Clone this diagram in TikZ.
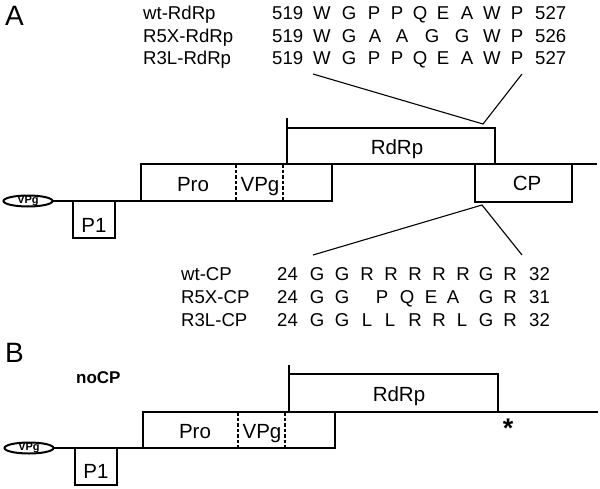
\documentclass[tikz,border=0pt]{standalone}
\usepackage{fontspec}
\setmainfont{Liberation Sans}
\usetikzlibrary{shapes.geometric}
\newcommand\seqfont{\fontsize{18.6}{22}\selectfont}
\newcommand\boxfont{\fontsize{20.5}{24}\selectfont}
\newcommand\panelfont{\fontsize{28}{32}\selectfont}
\newcommand\vpgfont{\fontsize{11}{13}\selectfont\bfseries}
\newcommand\nocpfont{\fontsize{17}{20}\selectfont\bfseries}
\newcommand\starfont{\fontsize{27}{30}\selectfont\bfseries}
\begin{document}
\begin{tikzpicture}[x=1pt,y=-1pt,
  box/.style={draw, rectangle, line width=2.2pt, inner sep=0pt, outer sep=0pt},
  gline/.style={line width=2.2pt},
  thinline/.style={line width=1.1pt},
  dashline/.style={line width=1.2pt, dash pattern=on 3.5pt off 2pt},
  seq/.style={inner sep=0pt, anchor=base, font=\seqfont},
  seqw/.style={seq, anchor=base west},
  lbl/.style={inner sep=0pt, anchor=base, font=\boxfont},
  vpgshape/.style={ellipse, draw, line width=2pt, inner sep=0pt, outer sep=0pt, minimum width=49pt, minimum height=11pt},
  vpgtext/.style={inner sep=0pt, font=\vpgfont},
  panel/.style={inner sep=0pt, anchor=base west, font=\panelfont},
]
\useasboundingbox (0,0) rectangle (600,488);

% ---------------- Panel A ----------------
\node[panel] (labA) at (5,25) {A};

% RdRp sequences
\node[seqw] (nr1) at (143,19.5) {wt-RdRp};
\node[seqw] (nr2) at (143,42) {R5X-RdRp};
\node[seqw] (nr3) at (143,64.5) {R3L-RdRp};
\node[seqw] (sr1) at (272,19.5) {519};
\node[seqw] (sr2) at (272,42) {519};
\node[seqw] (sr3) at (272,64.5) {519};
\node[seqw] (er1) at (535,19.5) {527};
\node[seqw] (er2) at (535,42) {526};
\node[seqw] (er3) at (535,64.5) {527};
\foreach \x/\t [count=\i] in {322/W,349/G,374/P,397/P,420/Q,443/E,467/A,492/W,517/P}
  \node[seq] (ra\i) at (\x,19.5) {\t};
\foreach \x/\t [count=\i] in {322/W,349/G,375/A,402/A,432/G,462/G,492/W,517/P}
  \node[seq] (rb\i) at (\x,42) {\t};
\foreach \x/\t [count=\i] in {322/W,349/G,374/P,397/P,420/Q,443/E,467/A,492/W,517/P}
  \node[seq] (rc\i) at (\x,64.5) {\t};

% genome A
\node[vpgshape] (vpgA) at (28,201) {};
\node[vpgtext] (vpgAt) at (28,201) {VPg};
\node[box, minimum width=42pt, minimum height=37pt] (p1A) at (94,219.5) {};
\node[box, minimum width=191pt, minimum height=37pt] (proA) at (236.5,182.5) {};
\node[box, minimum width=208pt, minimum height=36pt] (rdrpA) at (391,146) {};
\node[box, minimum width=97pt, minimum height=38pt] (cpA) at (523.5,183) {};
\coordinate (endA) at (597,164);
\draw[gline] (vpgA.east) -- (p1A.north west);
\draw[gline] (p1A.north east) -- (proA.south west);
\draw[gline] (rdrpA.south east) -- (endA);
\draw[gline] (rdrpA.north west) -- ++(0,-10);
\draw[dashline] (236,164) -- (236,201);
\draw[dashline] (283,164) -- (283,201);
\node[lbl] (p1At) at (94,232.5) {P1};
\node[lbl] (proAt) at (193,191.3) {Pro};
\node[lbl] (vpAt) at (260,191.3) {VPg};
\node[lbl] (rdrpAt) at (397,154.3) {RdRp};
\node[lbl] (cpAt) at (527,190.3) {CP};

% zoom lines
\coordinate (vL) at (313,74);
\coordinate (vR) at (522,74);
\coordinate (vA) at (483,124);
\draw[thinline] (vL) -- (vA) -- (vR);
\coordinate (cL) at (313,255);
\coordinate (cR) at (522,255);
\coordinate (cA) at (482,205);
\draw[thinline] (cL) -- (cA) -- (cR);

% CP sequences
\node[seqw] (nc1) at (181,280) {wt-CP};
\node[seqw] (nc2) at (181,303) {R5X-CP};
\node[seqw] (nc3) at (181,326) {R3L-CP};
\node[seqw] (sc1) at (277,280) {24};
\node[seqw] (sc2) at (277,303) {24};
\node[seqw] (sc3) at (277,326) {24};
\node[seqw] (ec1) at (529,280) {32};
\node[seqw] (ec2) at (529,303) {31};
\node[seqw] (ec3) at (529,326) {32};
\foreach \x/\t [count=\i] in {317/G,342/G,367/R,391/R,415/R,439/R,463/R,486/G,510/R}
  \node[seq] (ca\i) at (\x,280) {\t};
\foreach \x/\t [count=\i] in {317/G,342/G,382/P,407/Q,431/E,453/A,486/G,510/R}
  \node[seq] (cb\i) at (\x,303) {\t};
\foreach \x/\t [count=\i] in {317/G,342/G,367/L,390/L,415/R,439/R,462/L,486/G,510/R}
  \node[seq] (cc\i) at (\x,326) {\t};

% ---------------- Panel B ----------------
\node[panel] (labB) at (5,362) {B};
\node[inner sep=0pt, anchor=base west, font=\nocpfont] (nocp) at (76,383) {noCP};

\node[vpgshape] (vpgB) at (29,448) {};
\node[vpgtext] (vpgBt) at (29,448) {VPg};
\node[box, minimum width=42pt, minimum height=37pt] (p1B) at (96,466.5) {};
\node[box, minimum width=192pt, minimum height=36pt] (proB) at (239,430) {};
\node[box, minimum width=209pt, minimum height=38pt] (rdrpB) at (393.5,393) {};
\coordinate (endB) at (598,412);
\draw[gline] (vpgB.east) -- (p1B.north west);
\draw[gline] (p1B.north east) -- (proB.south west);
\draw[gline] (rdrpB.south east) -- (endB);
\draw[gline] (rdrpB.north west) -- ++(0,-9);
\draw[dashline] (238,412) -- (238,448);
\draw[dashline] (285,412) -- (285,448);
\node[lbl] (p1Bt) at (96,478) {P1};
\node[lbl] (proBt) at (195,438) {Pro};
\node[lbl] (vpBt) at (262,438) {VPg};
\node[lbl] (rdrpBt) at (399,401.5) {RdRp};
\node[inner sep=0pt, anchor=base, font=\starfont] (star) at (508,437) {*};
\end{tikzpicture}
\end{document}
